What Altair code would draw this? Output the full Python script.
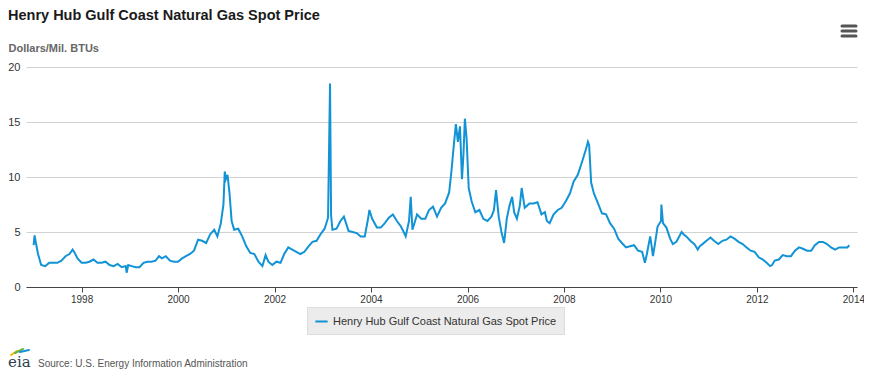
import altair as alt
import pandas as pd

TITLE = "Henry Hub Gulf Coast Natural Gas Spot Price"
UNIT = "Dollars/Mil. BTUs"
SOURCE = "Source: U.S. Energy Information Administration"
SERIES = "Henry Hub Gulf Coast Natural Gas Spot Price"

dates = [
    "1997-01-03", "1997-01-10", "1997-01-20", "1997-02-05", "1997-03-01", "1997-04-01",
    "1997-05-01", "1997-06-01", "1997-07-01", "1997-08-01", "1997-09-01", "1997-10-01",
    "1997-10-25", "1997-11-10", "1997-12-01",
    "1998-01-01", "1998-02-01", "1998-03-01", "1998-04-01", "1998-05-01", "1998-06-01",
    "1998-07-01", "1998-08-01", "1998-09-01", "1998-10-01", "1998-11-01", "1998-12-01",
    "1998-12-08", "1998-12-20",
    "1999-01-15", "1999-02-15", "1999-03-15", "1999-04-15", "1999-05-15", "1999-06-15",
    "1999-07-15", "1999-08-10", "1999-09-01", "1999-10-01", "1999-11-01", "1999-12-01",
    "2000-01-01", "2000-02-01", "2000-03-01", "2000-04-01", "2000-05-01", "2000-06-01",
    "2000-07-01", "2000-08-01", "2000-09-01", "2000-10-01", "2000-10-25", "2000-11-20",
    "2000-12-10", "2000-12-20", "2000-12-28",
    "2001-01-10", "2001-01-25", "2001-02-10", "2001-03-01", "2001-04-01", "2001-05-01",
    "2001-06-01", "2001-07-01", "2001-08-01", "2001-09-01", "2001-10-01", "2001-10-25",
    "2001-11-15", "2001-12-15",
    "2002-01-15", "2002-02-15", "2002-03-15", "2002-04-15", "2002-05-15", "2002-06-15",
    "2002-07-15", "2002-08-15", "2002-09-15", "2002-10-15", "2002-11-15", "2002-12-15",
    "2003-01-15", "2003-02-10", "2003-02-25", "2003-03-05", "2003-03-15", "2003-04-15",
    "2003-05-15", "2003-06-10", "2003-07-15", "2003-08-15", "2003-09-15", "2003-10-15",
    "2003-11-15", "2003-12-10", "2003-12-20",
    "2004-01-10", "2004-02-15", "2004-03-15", "2004-04-15", "2004-05-15", "2004-06-15",
    "2004-07-15", "2004-08-15", "2004-09-05", "2004-09-20", "2004-10-15", "2004-10-28",
    "2004-11-10", "2004-12-15",
    "2005-01-15", "2005-02-15", "2005-03-15", "2005-04-15", "2005-05-15", "2005-06-15",
    "2005-07-15", "2005-08-15", "2005-09-01", "2005-09-20", "2005-10-05", "2005-10-20",
    "2005-11-05", "2005-11-20", "2005-12-01", "2005-12-12", "2005-12-25",
    "2006-01-10", "2006-02-01", "2006-03-01", "2006-04-01", "2006-05-01", "2006-06-01",
    "2006-07-01", "2006-07-20", "2006-08-05", "2006-08-25", "2006-09-15", "2006-10-05",
    "2006-10-25", "2006-11-15", "2006-12-05", "2006-12-20",
    "2007-01-10", "2007-02-01", "2007-02-15", "2007-03-10", "2007-04-15", "2007-05-15",
    "2007-06-15", "2007-07-15", "2007-08-10", "2007-08-25", "2007-09-15", "2007-10-15",
    "2007-11-15", "2007-12-15",
    "2008-01-15", "2008-02-15", "2008-03-15", "2008-04-15", "2008-05-15", "2008-06-15",
    "2008-07-01", "2008-07-10", "2008-07-25", "2008-08-15", "2008-09-15", "2008-10-15",
    "2008-11-15", "2008-12-15",
    "2009-01-15", "2009-02-15", "2009-03-15", "2009-04-15", "2009-05-15", "2009-06-15",
    "2009-07-15", "2009-08-15", "2009-09-05", "2009-09-20", "2009-10-15", "2009-10-25",
    "2009-11-05", "2009-11-20", "2009-12-10",
    "2010-01-05", "2010-01-08", "2010-01-20", "2010-02-15", "2010-03-15", "2010-04-05",
    "2010-05-01", "2010-06-10", "2010-06-25", "2010-07-15", "2010-08-15", "2010-09-15",
    "2010-10-10", "2010-10-25", "2010-11-15", "2010-12-15",
    "2011-01-15", "2011-02-10", "2011-03-15", "2011-04-15", "2011-05-15", "2011-06-15",
    "2011-07-15", "2011-08-15", "2011-09-15", "2011-10-15", "2011-11-15", "2011-12-15",
    "2012-01-15", "2012-02-15", "2012-03-15", "2012-04-10", "2012-04-25", "2012-05-15",
    "2012-06-15", "2012-07-15", "2012-08-15", "2012-09-15", "2012-10-15", "2012-11-15",
    "2012-12-10",
    "2013-01-15", "2013-02-15", "2013-03-15", "2013-04-15", "2013-05-15", "2013-06-15",
    "2013-07-15", "2013-08-15", "2013-09-15", "2013-10-15", "2013-11-15", "2013-12-01",
]

prices = [
    3.8, 4.7, 4.0, 3.0, 2.0, 1.9,
    2.2, 2.2, 2.2, 2.4, 2.8, 3.0,
    3.4, 3.1, 2.6,
    2.2, 2.2, 2.3, 2.5, 2.2, 2.2,
    2.3, 2.0, 1.9, 2.1, 1.8, 1.9,
    1.3, 2.0,
    1.9, 1.8, 1.8, 2.2, 2.3, 2.3,
    2.4, 2.8, 2.6, 2.8, 2.4, 2.3,
    2.3, 2.6, 2.8, 3.0, 3.3, 4.3,
    4.2, 4.0, 4.8, 5.2, 4.6, 5.8,
    7.5, 10.5, 9.8,
    10.2, 8.5, 6.0, 5.2, 5.3, 4.6,
    3.7, 3.1, 3.0, 2.3, 1.9, 2.9,
    2.3, 2.0,
    2.3, 2.2, 3.0, 3.6, 3.4, 3.2,
    3.0, 3.2, 3.7, 4.1, 4.2, 4.8,
    5.3, 6.3, 18.5, 6.5, 5.2, 5.3,
    6.0, 6.4, 5.1, 5.0, 4.9, 4.6,
    4.6, 6.2, 7.0,
    6.2, 5.4, 5.4, 5.8, 6.3, 6.6,
    6.0, 5.5, 5.0, 4.6, 6.0, 8.2,
    5.2, 6.6,
    6.2, 6.2, 7.0, 7.3, 6.4, 7.2,
    7.6, 8.6, 10.5, 13.0, 14.8, 13.2,
    14.6, 9.8, 12.0, 15.3, 13.5,
    9.0, 7.8, 6.8, 7.0, 6.2, 6.0,
    6.4, 7.0, 8.8, 6.4, 5.0, 4.0,
    6.2, 7.4, 8.2, 6.8,
    6.2, 7.4, 9.0, 7.2, 7.6, 7.6,
    7.7, 6.6, 6.8, 6.0, 5.8, 6.6,
    7.0, 7.2,
    7.8, 8.5, 9.6, 10.2, 11.3, 12.5,
    13.2, 12.9, 9.5, 8.5, 7.6, 6.7,
    6.6, 5.8,
    5.3, 4.4, 4.0, 3.6, 3.7, 3.8,
    3.3, 3.2, 2.2, 3.0, 4.6, 3.8,
    2.8, 3.9, 5.5,
    6.0, 7.5, 5.8, 5.4, 4.4, 3.9,
    4.1, 5.0, 4.8, 4.6, 4.2, 3.9,
    3.4, 3.7, 3.9, 4.2,
    4.5, 4.2, 3.9, 4.2, 4.3, 4.6,
    4.4, 4.1, 3.9, 3.6, 3.3, 3.2,
    2.7, 2.5, 2.2, 1.9, 2.0, 2.4,
    2.5, 2.9, 2.8, 2.8, 3.3, 3.6,
    3.5,
    3.3, 3.3, 3.8, 4.1, 4.1, 3.9,
    3.6, 3.4, 3.6, 3.6, 3.6, 3.8,
]

y_ticks = [0, 5, 10, 15, 20]
x_tick_years = [1998, 2000, 2002, 2004, 2006, 2008, 2010, 2012, 2014]

df = pd.DataFrame({"date": dates, "price": prices, "series": SERIES})

FONT = "Liberation Sans"
W, H = 831, 220

line = alt.Chart(df).mark_line(strokeWidth=2, interpolate="linear").encode(
    x=alt.X(
        "date:T",
        title=None,
        scale=alt.Scale(domain=[alt.DateTime(year=1996, month=11, date=6),
                                alt.DateTime(year=2014, month=1, date=28)]),
        axis=alt.Axis(
            values=[alt.DateTime(year=y, month=1, date=1) for y in x_tick_years],
            format="%Y", grid=False, domainColor="#444", domainWidth=1,
            tickColor="#444", tickSize=5, labelFontSize=10, labelColor="#333",
            labelFont=FONT, labelPadding=2,
        ),
    ),
    y=alt.Y(
        "price:Q",
        scale=alt.Scale(domain=[0, 20], nice=False),
        axis=alt.Axis(
            values=y_ticks, title=UNIT, titleAngle=0, titleAlign="left",
            titleBaseline="alphabetic", titleX=-18, titleY=-16, titleFont=FONT,
            titleFontSize=11, titleFontWeight="bold", titleColor="#666",
            domain=False, ticks=False, gridColor="#d3d3d3", gridWidth=1,
            labelFontSize=11, labelColor="#333", labelFont=FONT, labelPadding=6,
        ),
    ),
    color=alt.Color(
        "series:N",
        scale=alt.Scale(range=["#1193d6"]),
        legend=alt.Legend(
            title=None, orient="none", legendX=281, legendY=240,
            fillColor="#ececec", strokeColor="#dddddd", padding=7,
            symbolType="stroke", symbolStrokeWidth=2, symbolSize=150,
            labelFont=FONT, labelFontSize=11, labelColor="#333", labelLimit=400,
        ),
    ),
)

one = pd.DataFrame({"k": [0]})

title = alt.Chart(one).mark_text(
    text=TITLE, font=FONT, fontSize=14.5, fontWeight="bold", color="#1a1a1a",
    align="left", baseline="alphabetic",
).encode(x=alt.value(-18), y=alt.value(-47))

source = alt.Chart(one).mark_text(
    text=SOURCE, font=FONT, fontSize=10, color="#555",
    align="left", baseline="alphabetic",
).encode(x=alt.value(12), y=alt.value(300))

logo_text = alt.Chart(one).mark_text(
    text="eia", font="DejaVu Serif", fontSize=15, color="#2c3e50",
    align="left", baseline="alphabetic",
).encode(x=alt.value(-18), y=alt.value(300))


def rule(x1, y1, x2, y2, color, width):
    return alt.Chart(one).mark_rule(color=color, strokeWidth=width, strokeCap="round").encode(
        x=alt.value(x1), y=alt.value(y1), x2=alt.value(x2), y2=alt.value(y2)
    )


logo_arcs = [
    rule(-15, 288, -9, 284, "#f2b800", 2),
    rule(-11, 286, -3, 282, "#6ab23e", 2),
    rule(-6, 285, 3, 283, "#1193d6", 2),
]

menu = [rule(816, -41 + 5 * i, 830, -41 + 5 * i, "#555555", 3) for i in range(3)]

chart = alt.layer(line, title, source, logo_text, *logo_arcs, *menu).properties(
    width=W, height=H,
    autosize=alt.AutoSizeParams(type="none"),
    padding={"left": 18, "top": 59, "right": 7, "bottom": 83},
    background="white",
).configure_view(stroke=None)

chart.save("out.html", embed_options={"renderer": "svg", "actions": False})
